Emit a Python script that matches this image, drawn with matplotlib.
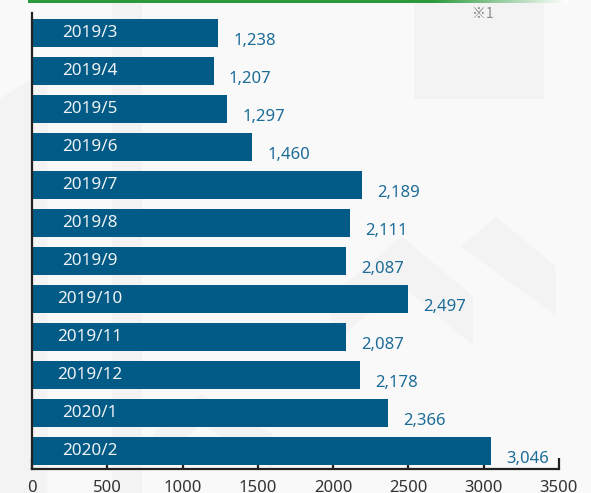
import numpy as np
import matplotlib
matplotlib.use("Agg")
import matplotlib.pyplot as plt
from matplotlib.patches import Polygon
import matplotlib.transforms as mtransforms

months = ["2019/3", "2019/4", "2019/5", "2019/6", "2019/7", "2019/8",
          "2019/9", "2019/10", "2019/11", "2019/12", "2020/1", "2020/2"]
counts = [1238, 1207, 1297, 1460, 2189, 2111, 2087, 2497, 2087, 2178, 2366, 3046]
x_ticks = [0, 500, 1000, 1500, 2000, 2500, 3000, 3500]

BAR_COLOR = "#025b86"
VALUE_COLOR = "#1d6c98"
FONT = "Noto Sans"

fig = plt.figure(figsize=(5.91, 4.93), dpi=100)
fig.patch.set_facecolor("#f9f9f9")

# faint watermark shapes behind everything
bg = fig.add_axes([0, 0, 1, 1], zorder=-10)
bg.set_xlim(0, 1)
bg.set_ylim(0, 1)
bg.axis("off")
shade = "#f3f3f3"
shapes = [
    [(0.0, 0.80), (0.08, 0.86), (0.08, 0.0), (0.0, 0.0)],
    [(0.19, 0.0), (0.24, 0.0), (0.24, 1.0), (0.19, 1.0)],
    [(0.56, 0.40), (0.68, 0.52), (0.80, 0.40), (0.80, 0.30), (0.68, 0.42), (0.56, 0.30)],
    [(0.70, 1.0), (0.70, 0.80), (0.92, 0.80), (0.92, 1.0)],
    [(0.78, 0.50), (0.94, 0.36), (0.94, 0.46), (0.84, 0.56)],
    [(0.26, 0.12), (0.34, 0.20), (0.46, 0.12), (0.46, 0.05), (0.34, 0.14), (0.26, 0.05)],
]
for pts in shapes:
    bg.add_patch(Polygon(pts, closed=True, facecolor=shade, edgecolor="none"))

# green gradient strip at the top
strip = fig.add_axes([28 / 591, 1 - 3.5 / 493, 540 / 591, 3.5 / 493])
grad = np.ones((1, 256, 4))
green = np.array(matplotlib.colors.to_rgb("#2b9a3c"))
t = np.linspace(0, 1, 256)
alpha = np.clip((1 - t) / 0.25, 0, 1)
for c in range(3):
    grad[0, :, c] = green[c] * alpha + (1 - alpha)
strip.imshow(grad, aspect="auto", extent=[0, 1, 0, 1])
strip.axis("off")

ax = fig.add_axes([32 / 591, 1 - 469 / 493, 527 / 591, 456 / 493])
ax.set_facecolor("none")

y = np.arange(len(months))
ax.barh(y, counts, height=0.74, color=BAR_COLOR, zorder=2)

ax.set_xlim(0, 3500)
ax.set_ylim(len(months) - 0.53, -0.53)

for s in ["top", "right"]:
    ax.spines[s].set_visible(False)
for s in ["left", "bottom"]:
    ax.spines[s].set_linewidth(1.6)
    ax.spines[s].set_color("#222222")
    ax.spines[s].set_zorder(3)

ax.set_xticks(x_ticks)
ax.set_xticklabels([str(v) for v in x_ticks], fontsize=12, family=FONT, color="#333333")
ax.tick_params(axis="x", direction="in", length=8, width=1.6, color="#222222", pad=8)
ax.set_yticks(y)
ax.set_yticklabels([])
ax.tick_params(axis="y", direction="in", length=10, width=1.6, color="#222222")

# month labels inside the bars
trans = mtransforms.blended_transform_factory(ax.transAxes, ax.transData)
for i, m in enumerate(months):
    ax.text(0.11, i, m, transform=trans, ha="center", va="center",
            fontsize=12.3, family=FONT, color="#eef2f5", zorder=4)

# value labels right of the bars
for i, v in enumerate(counts):
    ax.annotate(f"{v:,}", xy=(v, i), xytext=(11, -6), textcoords="offset points",
                ha="left", va="center", fontsize=12, family=FONT, color=VALUE_COLOR)

fig.text(483 / 591, 1 - 14 / 493, "※1", ha="center", va="center", fontsize=10,
         family=["Noto Sans CJK JP", "DejaVu Sans"], color="#8a8a8a")

fig.savefig("out.png", dpi=100, facecolor=fig.get_facecolor())
